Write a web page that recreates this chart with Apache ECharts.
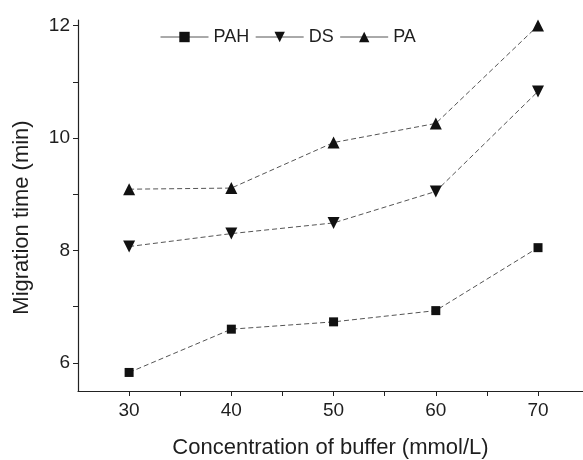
<!DOCTYPE html>
<html>
<head>
<meta charset="utf-8">
<script src="https://cdn.jsdelivr.net/npm/echarts@6/dist/echarts.min.js"></script>
<style>html,body{margin:0;padding:0;background:#fff}#c{width:583px;height:460px}</style>
</head>
<body>
<div id="c"></div>
<script>
const concentrations = [30, 40, 50, 60, 70];
const seriesNames = ['PAH', 'DS', 'PA'];
const pahValues = [5.83, 6.60, 6.73, 6.93, 8.05];
const dsValues = [8.07, 8.30, 8.49, 9.05, 10.83];
const paValues = [9.09, 9.11, 9.92, 10.26, 12.00];
const xTickLabels = [30, 40, 50, 60, 70];
const xTicks = [30, 35, 40, 45, 50, 55, 60, 65, 70];
const yTickLabels = [6, 8, 10, 12];
const yTicks = [6, 7, 8, 9, 10, 11, 12];

const txt = '#1e1e1e';
const font = 'Liberation Sans, Arial, sans-serif';
function pts(vals){ return concentrations.map((c,i)=>[c, vals[i]]); }
const lineStyle = {color:'#555', width:1, type:[5,3]};

const chart = echarts.init(document.getElementById('c'), null, {renderer:'canvas'});
chart.setOption({
  animation:false,
  backgroundColor:'#fff',
  textStyle:{fontFamily:font},
  grid:{left:78, right:0, top:20, bottom:69, containLabel:false, outerBoundsMode:'none'},
  legend:{
    left:155, top:23, itemWidth:48, itemHeight:13, itemGap:6,
    textStyle:{fontSize:18, color:txt, fontFamily:font},
    lineStyle:{type:'solid', color:'#555', width:1},
    data:seriesNames
  },
  xAxis:{
    type:'value', min:25, max:74.4,
    name:'Concentration of buffer (mmol/L)', nameLocation:'middle', nameGap:46,
    nameTextStyle:{fontSize:22, color:txt, fontFamily:font},
    axisLine:{show:true, lineStyle:{color:'#222', width:1.2}},
    axisTick:{show:true, length:5, lineStyle:{color:'#222'}, customValues:xTicks},
    axisLabel:{show:true, fontSize:19, color:txt, margin:10, customValues:xTickLabels},
    splitLine:{show:false}
  },
  yAxis:{
    type:'value', min:5.5, max:12.1,
    name:'Migration time (min)', nameLocation:'middle', nameGap:45,
    nameTextStyle:{fontSize:22, color:txt, fontFamily:font, padding:[0,24,0,0]},
    axisLine:{show:true, lineStyle:{color:'#222', width:1.2}},
    axisTick:{show:true, length:5, lineStyle:{color:'#222'}, customValues:yTicks},
    axisLabel:{show:true, fontSize:19, color:txt, margin:8, customValues:yTickLabels},
    splitLine:{show:false}
  },
  series:[
    {name:'PAH', type:'line', data:pts(pahValues), symbol:'rect', symbolSize:9,
     itemStyle:{color:'#111'}, lineStyle:lineStyle},
    {name:'DS', type:'line', data:pts(dsValues), symbol:'triangle', symbolRotate:180, symbolSize:12,
     itemStyle:{color:'#111'}, lineStyle:lineStyle},
    {name:'PA', type:'line', data:pts(paValues), symbol:'triangle', symbolSize:12,
     itemStyle:{color:'#111'}, lineStyle:lineStyle}
  ]
});
</script>
</body>
</html>
